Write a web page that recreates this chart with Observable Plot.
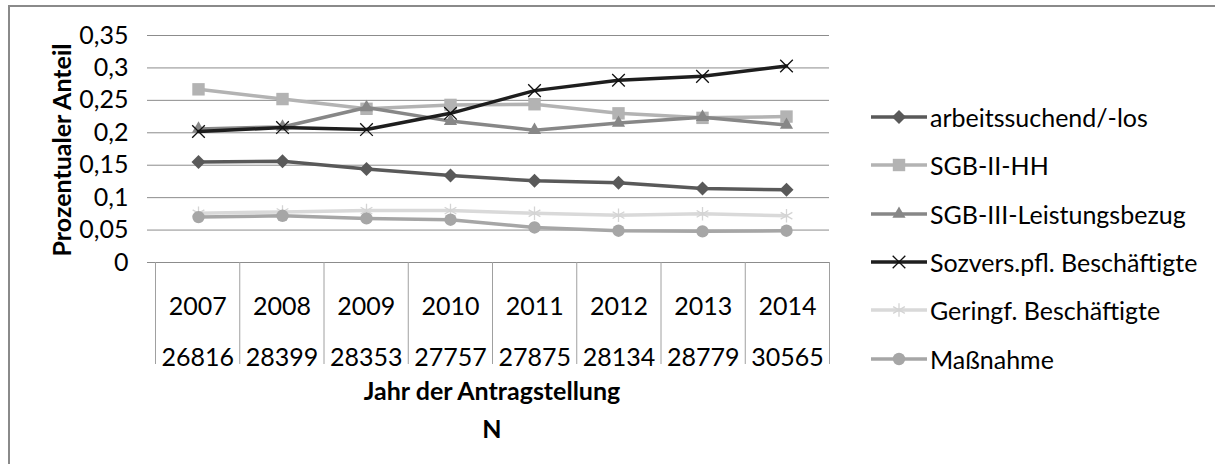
<!DOCTYPE html>
<html><head><meta charset="utf-8">
<script src="https://cdn.jsdelivr.net/npm/d3@7"></script>
<script src="https://cdn.jsdelivr.net/npm/@observablehq/plot@0.6"></script>
<style>
html,body{margin:0;padding:0;background:#fff;}
#wrap{position:relative;width:1215px;height:464px;overflow:hidden;font-family:Lato,"Open Sans",sans-serif;color:#000;}
#frame{position:absolute;left:8px;top:5px;width:1400px;height:700px;border-left:2px solid #8a8a8a;border-top:2px solid #8a8a8a;}
.abs{position:absolute;}
#main,#table{position:absolute;left:0;}
#main{top:0;}
#table{top:262px;}
.ttl{position:absolute;font-weight:bold;font-size:25px;white-space:nowrap;transform:translate(-50%,-50%);}
#ylab{position:absolute;left:61px;top:150px;font-weight:bold;font-size:25px;white-space:nowrap;transform:translate(-50%,-50%) rotate(-90deg);}
#legend{position:absolute;left:870px;top:93px;}
.li{display:flex;align-items:center;height:48.3px;font-size:25px;white-space:nowrap;}
.li svg{margin-right:2px;}
</style></head>
<body>
<div id="wrap">
  <div id="frame"></div>
  <div id="main"></div>
  <div id="table"></div>
  <div id="ylab">Prozentualer Anteil</div>
  <div class="ttl" style="left:492px;top:390px;">Jahr der Antragstellung</div>
  <div class="ttl" style="left:492px;top:428px;">N</div>
  <div id="legend"></div>
</div>
<script>
const years = ["2007","2008","2009","2010","2011","2012","2013","2014"];
const nValues = ["26816","28399","28353","27757","27875","28134","28779","30565"];
const yTicks = [0, 0.05, 0.1, 0.15, 0.2, 0.25, 0.3, 0.35];

const seriesNames = ["arbeitssuchend/-los","SGB-II-HH","SGB-III-Leistungsbezug","Sozvers.pfl. Beschäftigte","Geringf. Beschäftigte","Maßnahme"];
const arbeitssuchend = [0.155, 0.156, 0.144, 0.134, 0.126, 0.123, 0.114, 0.112];
const sgb2hh = [0.267, 0.252, 0.237, 0.243, 0.244, 0.230, 0.223, 0.225];
const sgb3 = [0.206, 0.209, 0.239, 0.218, 0.204, 0.215, 0.224, 0.212];
const sozvers = [0.202, 0.208, 0.205, 0.230, 0.265, 0.281, 0.287, 0.303];
const geringf = [0.076, 0.078, 0.080, 0.080, 0.076, 0.073, 0.075, 0.072];
const massnahme = [0.070, 0.072, 0.068, 0.066, 0.054, 0.049, 0.048, 0.049];

const seriesValues = [arbeitssuchend, sgb2hh, sgb3, sozvers, geringf, massnahme];
const styles = [
  {color:"#595959", symbol:"diamond2", d3sym:d3.symbolDiamond2, r:6.3, fill:"#595959", stroke:"none", sw:0},
  {color:"#b3b3b3", symbol:"square", d3sym:d3.symbolSquare, r:7, fill:"#b3b3b3", stroke:"none", sw:0},
  {color:"#878787", symbol:"triangle", d3sym:d3.symbolTriangle, r:4.9, fill:"#878787", stroke:"none", sw:0},
  {color:"#1e1e1e", symbol:"times", d3sym:d3.symbolTimes, r:5.8, fill:"none", stroke:"#111", sw:1.3},
  {color:"#d9d9d9", symbol:"asterisk", d3sym:d3.symbolAsterisk, r:6.4, fill:"none", stroke:"#d4d4d4", sw:1.3},
  {color:"#a6a6a6", symbol:"circle", d3sym:d3.symbolCircle, r:6.2, fill:"#a6a6a6", stroke:"none", sw:0}
];

const fmt = d => String(d).replace(".", ",");
const font = {fontFamily:"Lato, 'Open Sans', sans-serif", fontSize:"25px", background:"transparent", overflow:"visible"};

const marks = [
  Plot.gridY(yTicks, {stroke:"#8c8c8c", strokeOpacity:1, strokeWidth:1}),
  Plot.axisY(yTicks, {tickSize:8, tickPadding:19, tickFormat:fmt, stroke:"#8c8c8c", fill:"#000", label:null})
];
seriesNames.forEach((name, k) => {
  const data = years.map((y, i) => ({series:name, year:y, value:seriesValues[k][i]}));
  const s = styles[k];
  marks.push(Plot.line(data, {x:"year", y:"value", stroke:s.color, strokeWidth:3.5}));
  marks.push(Plot.dot(data, {x:"year", y:"value", symbol:() => s.symbol, r:s.r, fill:s.fill, stroke:s.stroke, strokeWidth:s.sw}));
});

const main = Plot.plot({
  width:860, height:282,
  marginLeft:155, marginRight:31, marginTop:35, marginBottom:20,
  x:{type:"band", domain:years, padding:0, axis:null},
  y:{domain:[0,0.35], axis:null},
  symbol:{type:"identity"},
  style:font,
  marks
});
document.getElementById("main").appendChild(main);

const boundaries = d3.range(years.length + 1);
const table = Plot.plot({
  width:860, height:110,
  marginLeft:155, marginRight:31, marginTop:0, marginBottom:8,
  x:{domain:[0, years.length], axis:null},
  style:font,
  marks:[
    Plot.ruleX(boundaries, {x:d => d, stroke:"#a0a0a0", strokeWidth:1}),
    Plot.text(years, {x:(d, i) => i + 0.5, text:d => d, frameAnchor:"top", dy:35, fill:"#000"}),
    Plot.text(nValues, {x:(d, i) => i + 0.5, text:d => d, frameAnchor:"top", dy:86, fill:"#000"})
  ]
});
document.getElementById("table").appendChild(table);

const legend = d3.select("#legend");
seriesNames.forEach((name, k) => {
  const s = styles[k];
  const item = legend.append("div").attr("class", "li");
  const svg = item.append("svg").attr("width", 58).attr("height", 20);
  svg.append("line").attr("x1", 1).attr("x2", 57).attr("y1", 10).attr("y2", 10)
    .attr("stroke", s.color).attr("stroke-width", 3.5);
  svg.append("path").attr("transform", "translate(29,10)")
    .attr("d", d3.symbol(s.d3sym, Math.PI * s.r * s.r)())
    .attr("fill", s.fill).attr("stroke", s.stroke).attr("stroke-width", s.sw);
  item.append("span").text(name);
});
</script>
</body></html>
